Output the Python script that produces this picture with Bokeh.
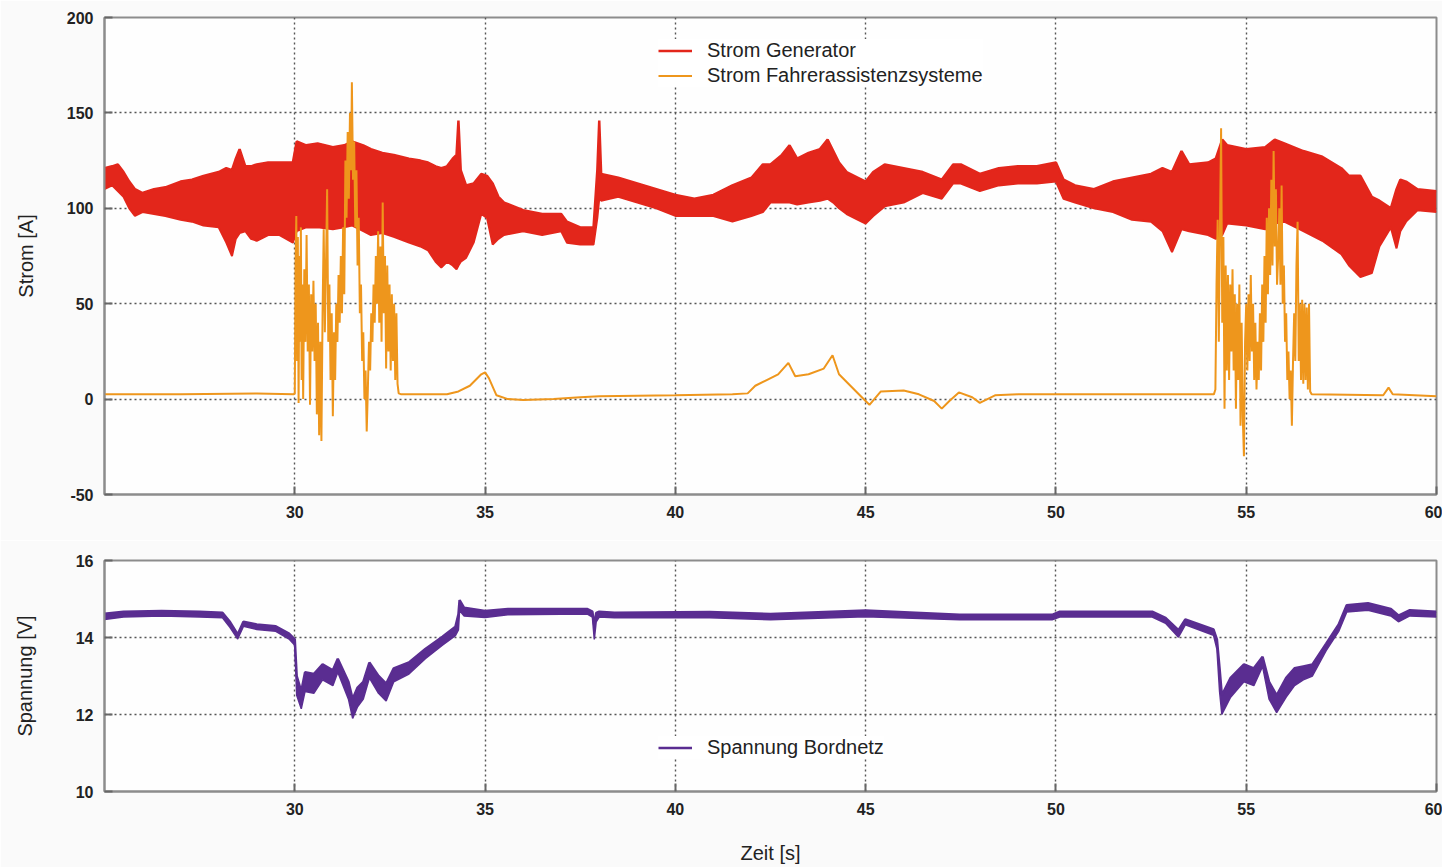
from bokeh.plotting import figure
from bokeh.models import Range1d, FixedTicker, Legend, LegendItem
from bokeh.layouts import column
from bokeh.embed import file_html
from bokeh.resources import INLINE

# ---------------- data ----------------
x_ticks = [30, 35, 40, 45, 50, 55, 60]
i_ticks = [-50, 0, 50, 100, 150, 200]
u_ticks = [10, 12, 14, 16]

# Strom Generator: (time, upper edge, lower edge) of the fast oscillating signal
gen_rows = [
    (25.0, 121, 110), (25.2, 122, 112), (25.35, 123, 109), (25.5, 119, 106), (25.65, 114, 100),
    (25.8, 110, 96), (26.0, 108, 98), (26.3, 110, 97), (26.6, 111, 96), (27.0, 114, 94),
    (27.3, 115, 93), (27.6, 117, 91), (28.0, 119, 90), (28.2, 121, 82), (28.35, 120, 75),
    (28.45, 126, 84), (28.55, 131, 87), (28.7, 122, 88), (28.85, 122, 84), (29.0, 123, 83),
    (29.3, 124, 86), (29.6, 124, 86), (29.95, 124, 82), (30.05, 135, 88), (30.3, 133, 90),
    (30.6, 134, 90), (31.0, 132, 89), (31.3, 133, 90), (31.5, 135, 91), (31.8, 133, 88),
    (32.0, 131, 86), (32.3, 129, 87), (32.6, 128, 85), (33.0, 126, 82), (33.3, 125, 80),
    (33.5, 124, 78), (33.7, 122, 72), (33.85, 121, 69), (34.0, 122, 72), (34.15, 126, 70),
    (34.25, 128, 68), (34.3, 146, 70), (34.36, 120, 72), (34.5, 112, 74), (34.7, 113, 82),
    (34.9, 118, 97), (35.05, 117, 95), (35.2, 113, 81), (35.35, 106, 84), (35.5, 103, 86),
    (36.0, 99, 88), (36.5, 97, 86), (37.0, 97, 88), (37.15, 93, 82), (37.5, 90, 81),
    (37.85, 90, 81), (37.95, 120, 95), (38.0, 146, 105), (38.05, 118, 104), (38.5, 116, 106),
    (39.0, 113, 103), (39.5, 110, 100), (40.0, 107, 96), (40.5, 105, 96), (41.0, 107, 96),
    (41.5, 112, 93), (42.0, 116, 96), (42.3, 123, 98), (42.5, 123, 103), (42.8, 128, 103),
    (43.0, 133, 103), (43.2, 126, 102), (43.5, 129, 103), (43.8, 131, 104), (44.0, 136, 105),
    (44.15, 130, 103), (44.3, 124, 100), (44.5, 119, 97), (44.8, 116, 94), (45.0, 114, 92),
    (45.2, 119, 96), (45.5, 123, 101), (46.0, 121, 103), (46.5, 119, 108), (47.0, 115, 105),
    (47.3, 123, 113), (47.5, 123, 113), (48.0, 118, 109), (48.5, 121, 112), (49.0, 122, 113),
    (49.5, 122, 113), (50.0, 124, 114), (50.2, 115, 105), (50.5, 112, 103), (51.0, 110, 100),
    (51.5, 114, 98), (52.0, 116, 94), (52.5, 118, 93), (52.8, 121, 88), (53.05, 119, 77),
    (53.3, 130, 89), (53.5, 123, 88), (54.0, 124, 86), (54.2, 126, 84), (54.37, 136, 86),
    (54.5, 133, 92), (55.0, 131, 91), (55.5, 132, 89), (55.75, 136, 92), (56.0, 134, 93),
    (56.5, 130, 88), (57.0, 127, 83), (57.5, 121, 76), (57.7, 117, 70), (58.0, 117, 64),
    (58.3, 106, 66), (58.5, 104, 80), (58.8, 100, 90), (58.95, 110, 79), (59.05, 115, 88),
    (59.2, 114, 93), (59.5, 110, 99), (60.0, 109, 98),
]
gen_t = [r[0] for r in gen_rows]
gen_hi = [r[1] for r in gen_rows]
gen_lo = [r[2] for r in gen_rows]

# Strom Fahrerassistenzsysteme: (time, current)
fas_points = [
    (25.0, 2.5), (27.0, 2.5), (29.0, 3), (29.97, 2.5),
    # first burst
    (30.00, 3), (30.02, 70), (30.04, 96), (30.06, 20), (30.08, 85), (30.10, -2), (30.12, 75),
    (30.14, 30), (30.16, 90), (30.18, 10), (30.20, 60), (30.22, 0), (30.25, 68), (30.28, 30),
    (30.31, 86), (30.34, 25), (30.37, 60), (30.40, -3), (30.43, 55), (30.46, 25), (30.49, 62),
    (30.52, 20), (30.55, 50), (30.58, -8), (30.61, 40), (30.64, -19), (30.67, 30), (30.70, -22),
    (30.73, 45), (30.76, 89), (30.79, 35), (30.82, 70), (30.85, 110), (30.88, 30), (30.91, 60),
    (30.94, 10), (30.97, 45), (31.00, -9), (31.03, 35), (31.06, 10), (31.09, 50), (31.12, 30),
    (31.15, 65), (31.18, 40), (31.21, 75), (31.24, 45), (31.27, 90), (31.30, 55), (31.33, 125),
    (31.36, 95), (31.39, 140), (31.42, 105), (31.45, 150), (31.48, 120), (31.50, 166), (31.53, 115),
    (31.56, 135), (31.59, 90), (31.62, 120), (31.65, 70), (31.68, 95), (31.71, 45), (31.74, 60),
    (31.77, 20), (31.80, 35), (31.83, 0), (31.86, 15), (31.89, -17), (31.92, 5), (31.95, 30),
    (31.98, 15), (32.01, 45), (32.04, 30), (32.07, 60), (32.10, 40), (32.13, 75), (32.16, 50),
    (32.19, 88), (32.22, 40), (32.25, 80), (32.28, 30), (32.31, 103), (32.34, 45), (32.37, 75),
    (32.40, 16), (32.43, 70), (32.46, 25), (32.49, 60), (32.52, 15), (32.55, 55), (32.58, 20),
    (32.61, 50), (32.64, 10), (32.67, 45), (32.70, 8), (32.73, 3), (32.80, 2.5),
    # between the bursts
    (34.0, 2.5), (34.3, 4), (34.6, 7), (34.9, 13), (35.0, 14), (35.1, 11), (35.3, 2), (35.6, 0),
    (36.0, -0.5), (36.8, 0), (37.5, 1), (38.0, 1.5), (40.0, 2), (41.5, 2.5), (41.9, 3), (42.1, 7),
    (42.4, 10), (42.7, 13), (42.97, 19), (43.15, 12), (43.5, 13), (43.9, 16), (44.13, 23),
    (44.3, 13), (44.6, 7), (44.9, 1), (45.1, -3), (45.4, 4), (46.0, 4.5), (46.4, 2.5), (46.8, -1),
    (47.0, -5), (47.2, -1), (47.45, 3.5), (47.8, 1), (48.0, -2), (48.4, 2), (49.0, 2.5),
    (50.0, 2.5), (52.0, 2.5), (54.0, 2.5), (54.15, 2.5),
    # second burst
    (54.19, 5), (54.22, 60), (54.25, 94), (54.28, 30), (54.31, 90), (54.34, 142), (54.37, 40),
    (54.40, 85), (54.43, -5), (54.46, 70), (54.49, 15), (54.52, 65), (54.55, 10), (54.58, 60),
    (54.61, 25), (54.64, 68), (54.67, 15), (54.70, 55), (54.73, -5), (54.76, 50), (54.79, 10),
    (54.82, 60), (54.85, -14), (54.88, 40), (54.91, -10), (54.94, -30), (54.97, 30), (55.00, 50),
    (55.03, 15), (55.06, 55), (55.09, 20), (55.12, 65), (55.15, 25), (55.18, 50), (55.21, 10),
    (55.24, 40), (55.27, 5), (55.30, 30), (55.33, 10), (55.36, 45), (55.39, 15), (55.42, 60),
    (55.45, 30), (55.48, 75), (55.51, 40), (55.54, 95), (55.57, 55), (55.60, 100), (55.63, 65),
    (55.66, 115), (55.69, 70), (55.72, 130), (55.75, 80), (55.78, 110), (55.81, 60), (55.84, 75),
    (55.87, 100), (55.90, 60), (55.93, 112), (55.96, 50), (55.99, 70), (56.02, 30), (56.05, 45),
    (56.08, 10), (56.11, 25), (56.14, 0), (56.17, 15), (56.20, -14), (56.23, 20), (56.26, 45),
    (56.29, 20), (56.32, 70), (56.35, 93), (56.38, 20), (56.41, 50), (56.44, 10), (56.47, 52),
    (56.50, 8), (56.53, 50), (56.56, 10), (56.59, 48), (56.62, 5), (56.65, 50), (56.68, 4),
    (56.72, 2.5),
    # tail
    (58.6, 2), (58.74, 6), (58.85, 2.5), (60.0, 1.5),
]
fas_t = [p[0] for p in fas_points]
fas_i = [p[1] for p in fas_points]

# Spannung Bordnetz: (time, upper edge, lower edge)
u_rows = [
    (25.0, 14.62, 14.47), (25.5, 14.67, 14.53), (26.5, 14.69, 14.56), (27.5, 14.67, 14.53),
    (28.1, 14.64, 14.51), (28.3, 14.4, 14.26), (28.5, 14.08, 13.96), (28.65, 14.41, 14.29),
    (29.0, 14.34, 14.21), (29.5, 14.29, 14.16), (29.85, 14.1, 13.96), (30.0, 13.95, 13.8),
    (30.05, 13.0, 12.5), (30.17, 12.6, 12.15), (30.27, 13.1, 12.6), (30.5, 13.05, 12.55),
    (30.73, 13.3, 12.9), (31.0, 13.15, 12.75), (31.13, 13.45, 13.1), (31.41, 12.85, 12.4),
    (31.52, 12.4, 11.9), (31.65, 12.7, 12.2), (31.8, 12.85, 12.4), (31.96, 13.35, 12.95),
    (32.2, 13.0, 12.55), (32.4, 12.8, 12.35), (32.6, 13.2, 12.85), (33.0, 13.35, 13.05),
    (33.43, 13.7, 13.45), (33.88, 14.02, 13.8), (34.22, 14.28, 14.05), (34.3, 14.6, 14.2),
    (34.33, 14.97, 14.7), (34.45, 14.77, 14.56), (35.0, 14.69, 14.52), (35.6, 14.74, 14.59),
    (37.69, 14.74, 14.61), (37.82, 14.67, 14.53), (37.87, 14.3, 13.95), (37.92, 14.64, 14.41),
    (38.0, 14.67, 14.53), (38.4, 14.64, 14.51), (40.9, 14.66, 14.51), (42.5, 14.61, 14.46),
    (45.0, 14.7, 14.54), (47.47, 14.59, 14.46), (49.9, 14.59, 14.46), (50.1, 14.67, 14.53),
    (52.53, 14.67, 14.53), (52.88, 14.51, 14.37), (53.22, 14.19, 14.01), (53.4, 14.47, 14.33),
    (54.14, 14.21, 14.06), (54.23, 13.95, 13.7), (54.3, 13.2, 12.6), (54.36, 12.5, 12.0),
    (54.59, 12.95, 12.45), (54.94, 13.3, 12.85), (55.2, 13.2, 12.75), (55.43, 13.5, 13.25),
    (55.6, 12.85, 12.4), (55.8, 12.5, 12.05), (56.05, 12.95, 12.45), (56.27, 13.2, 12.75),
    (56.5, 13.25, 12.9), (56.74, 13.3, 13.0), (57.1, 13.84, 13.66), (57.43, 14.34, 14.16),
    (57.64, 14.84, 14.66), (58.2, 14.89, 14.71), (58.8, 14.74, 14.56), (59.0, 14.57, 14.41),
    (59.3, 14.71, 14.56), (60.0, 14.67, 14.53),
]
u_t = [r[0] for r in u_rows]
u_hi = [r[1] for r in u_rows]
u_lo = [r[2] for r in u_rows]

# ---------------- styling ----------------
FONT = "Liberation Sans"
RED = "#E3261B"
ORANGE = "#EE961C"
PURPLE = "#5A2D91"
TXT = "#222222"


def style(p, yticks, ylabel, ylabel_standoff):
    p.outline_line_color = "#8c8c8c"
    p.outline_line_width = 2
    p.background_fill_color = "#fefefe"
    p.border_fill_color = "#fafafa"
    p.xaxis.ticker = FixedTicker(ticks=x_ticks)
    p.yaxis.ticker = FixedTicker(ticks=yticks)
    p.yaxis.major_label_overrides = {t: str(t) for t in yticks}
    for ax in (p.xaxis[0], p.yaxis[0]):
        ax.axis_line_color = "#8c8c8c"
        ax.axis_line_width = 2
        ax.major_tick_in = 8
        ax.major_tick_out = 0
        ax.major_tick_line_color = "#666666"
        ax.major_tick_line_width = 2
        ax.minor_tick_line_color = None
        ax.major_label_text_font = FONT
        ax.major_label_text_font_style = "bold"
        ax.major_label_text_font_size = "16px"
        ax.major_label_text_color = TXT
        ax.axis_label_text_font = FONT
        ax.axis_label_text_font_style = "normal"
        ax.axis_label_text_font_size = "20px"
        ax.axis_label_text_color = TXT
    p.xaxis.major_label_standoff = 11
    p.yaxis.major_label_standoff = 11
    p.yaxis.axis_label = ylabel
    p.yaxis.axis_label_standoff = ylabel_standoff
    for g in (p.xgrid[0], p.ygrid[0]):
        g.grid_line_color = "#555555"
        g.grid_line_width = 1.4
        g.grid_line_dash = "2 3"


def make_legend(items, loc):
    lg = Legend(items=items, location=loc)
    lg.background_fill_color = "white"
    lg.background_fill_alpha = 1.0
    lg.border_line_color = None
    lg.label_text_font = FONT
    lg.label_text_font_size = "20px"
    lg.label_text_color = TXT
    lg.glyph_width = 34
    lg.glyph_height = 23
    lg.label_height = 23
    lg.spacing = 2
    lg.padding = 8
    lg.label_standoff = 15
    lg.margin = 0
    return lg


# ---------------- top: currents ----------------
p1 = figure(width=1442, height=540, output_backend="svg", toolbar_location=None,
            x_range=Range1d(25, 60), y_range=Range1d(-50, 200),
            min_border_left=104, min_border_right=6, min_border_top=17, min_border_bottom=46)
style(p1, i_ticks, "Strom [A]", 27)

p1.varea(x=gen_t, y1=gen_lo, y2=gen_hi, fill_color=RED, fill_alpha=1.0)
r_red = p1.line(gen_t, gen_hi, line_color=RED, line_width=2.5)
p1.line(gen_t, gen_lo, line_color=RED, line_width=2)
r_orange = p1.line(fas_t, fas_i, line_color=ORANGE, line_width=2)

p1.add_layout(make_legend([LegendItem(label="Strom Generator", renderers=[r_red]),
                           LegendItem(label="Strom Fahrerassistenzsysteme", renderers=[r_orange])],
                          (554, 407)))

# ---------------- bottom: voltage ----------------
p2 = figure(width=1442, height=327, output_backend="svg", toolbar_location=None,
            x_range=Range1d(25, 60), y_range=Range1d(10, 16),
            min_border_left=104, min_border_right=6, min_border_top=20, min_border_bottom=76)
style(p2, u_ticks, "Spannung [V]", 37)
p2.xaxis.axis_label = "Zeit [s]"
p2.xaxis.axis_label_standoff = 24

p2.varea(x=u_t, y1=u_lo, y2=u_hi, fill_color=PURPLE, fill_alpha=1.0)
r_purple = p2.line(u_t, u_hi, line_color=PURPLE, line_width=2.5)
p2.line(u_t, u_lo, line_color=PURPLE, line_width=1.5)

p2.add_layout(make_legend([LegendItem(label="Spannung Bordnetz", renderers=[r_purple])], (554, 32)))

layout = column(p1, p2, spacing=0)
open("out.html", "w").write(file_html(layout, INLINE))
